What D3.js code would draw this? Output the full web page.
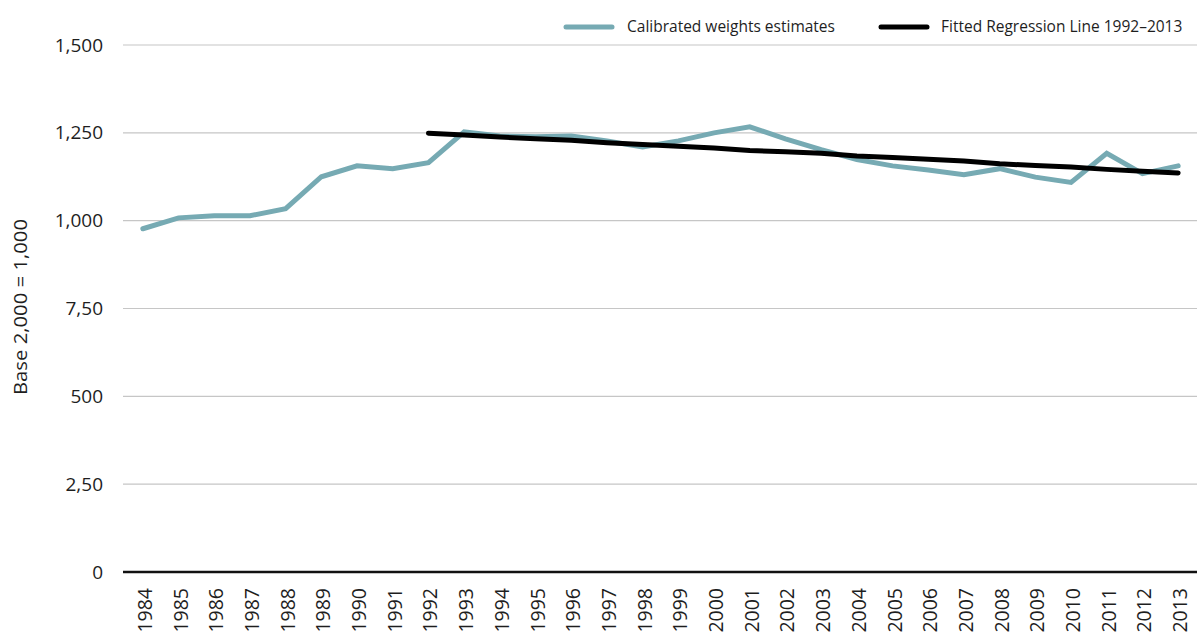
<!DOCTYPE html>
<html><head><meta charset="utf-8">
<script src="https://cdn.jsdelivr.net/npm/d3@7/dist/d3.min.js"></script>
<style>body{margin:0;background:#fff;} svg{display:block;font-family:"Open Sans",Lato,sans-serif;}</style>
</head><body>
<svg id="c" width="1200" height="633"></svg>
<script>
const years = ["1984","1985","1986","1987","1988","1989","1990","1991","1992","1993","1994","1995","1996","1997","1998","1999","2000","2001","2002","2003","2004","2005","2006","2007","2008","2009","2010","2011","2012","2013"];
const calibrated = [977,1008,1014,1014,1034,1125,1156,1148,1165,1253,1241,1239,1241,1227,1210,1227,1250,1267,1233,1202,1174,1156,1144,1131,1148,1124,1109,1192,1134,1156];
const regYears = ["1992","1993","1994","1995","1996","1997","1998","1999","2000","2001","2002","2003","2004","2005","2006","2007","2008","2009","2010","2011","2012","2013"];
const regression = [1249,1244,1238,1233,1229,1222,1217,1212,1207,1200,1196,1192,1184,1180,1175,1170,1162,1157,1153,1146,1141,1136];
const yTicks = [0,250,500,750,1000,1250,1500];
const yTickLabels = ["0","2,50","500","7,50","1,000","1,250","1,500"];
const legendLabels = ["Calibrated weights estimates","Fitted Regression Line 1992\u20132013"];

const svg = d3.select("#c");
const x = d3.scaleBand().domain(years).range([125,1196]);
const y = d3.scaleLinear().domain([0,1500]).range([572,45]);
const cx = d => x(d) + x.bandwidth()/2;
const teal = "#76aab3";
const ink = "#1e1e1e";

// gridlines
svg.append("g").selectAll("line").data(yTicks.filter(d=>d>0)).join("line")
  .attr("x1",123).attr("x2",1197).attr("y1",d=>y(d)).attr("y2",d=>y(d))
  .attr("stroke","#c6c6c6").attr("stroke-width",1.2);

// y labels
svg.append("g").selectAll("text").data(yTicks).join("text")
  .attr("x",103).attr("y",d=>y(d)).attr("dy","0.35em").attr("text-anchor","end")
  .attr("font-size",19).attr("fill",ink).text((d,i)=>yTickLabels[i]);

// y title
svg.append("text").attr("transform","translate(27,307) rotate(-90)").attr("text-anchor","middle")
  .attr("font-size",18).attr("fill",ink)
  .attr("textLength",176).attr("lengthAdjust","spacingAndGlyphs").text("Base 2,000 = 1,000");

// x axis line
svg.append("line").attr("x1",123).attr("x2",1197).attr("y1",572).attr("y2",572)
  .attr("stroke","#111").attr("stroke-width",2.5);

// x labels
svg.append("g").selectAll("text").data(years).join("text")
  .attr("transform",d=>`translate(${cx(d)+9},588) rotate(-90)`).attr("text-anchor","end")
  .attr("font-size",19.5).attr("fill",ink).text(d=>d);

// lines
const line = d3.line().x(d=>cx(d[0])).y(d=>y(d[1]));
svg.append("path").datum(years.map((yr,i)=>[yr,calibrated[i]])).attr("d",line)
  .attr("fill","none").attr("stroke",teal).attr("stroke-width",5).attr("stroke-linejoin","miter").attr("stroke-linecap","round");
svg.append("path").datum(regYears.map((yr,i)=>[yr,regression[i]])).attr("d",line)
  .attr("fill","none").attr("stroke","#000").attr("stroke-width",5).attr("stroke-linecap","round");

// legend
const lg = svg.append("g");
lg.append("line").attr("x1",566).attr("x2",612).attr("y1",27).attr("y2",27).attr("stroke",teal).attr("stroke-width",5).attr("stroke-linecap","round");
lg.append("text").attr("x",627).attr("y",27).attr("dy","0.35em").attr("font-size",15.5).attr("fill",ink)
  .text(legendLabels[0]);
lg.append("line").attr("x1",881).attr("x2",927).attr("y1",27).attr("y2",27).attr("stroke","#000").attr("stroke-width",5).attr("stroke-linecap","round");
lg.append("text").attr("x",941).attr("y",27).attr("dy","0.35em").attr("font-size",15.5).attr("fill",ink)
  .text(legendLabels[1]);
</script>
</body></html>
